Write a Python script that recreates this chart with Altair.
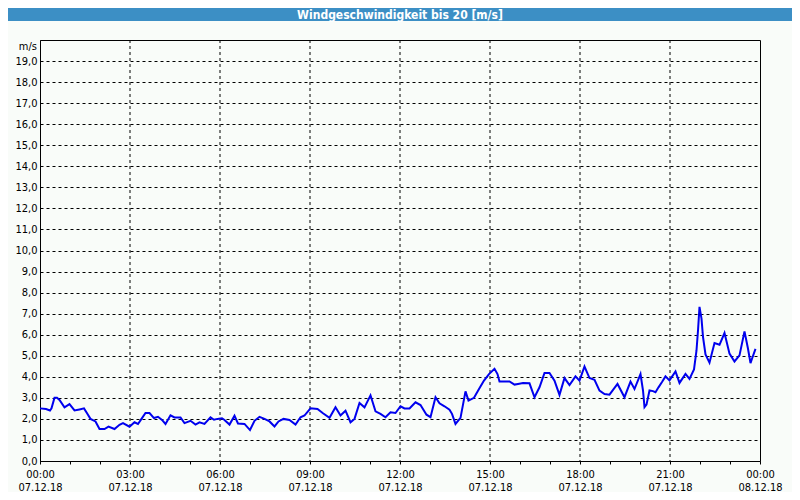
import json
import altair as alt
import pandas as pd

# ---- data ----
minutes = [0, 12, 20, 23, 29, 34, 39, 49, 59, 69, 79, 88, 95, 101, 111, 119, 129, 137, 149, 159,
           166, 179, 189, 196, 203, 211, 219, 228, 236, 244, 251, 261, 269, 281, 289, 301, 311, 319,
           329, 341, 348, 355, 364, 369, 379, 389, 396, 409, 420, 429, 439, 449, 459, 469, 477, 487,
           499, 511, 521, 529, 541, 555, 566, 579, 591, 601, 611, 621, 629, 639, 649, 661, 671, 681,
           691, 701, 711, 721, 729, 739, 751, 761, 773, 781, 791, 799, 809, 819, 824, 831, 841, 851,
           857, 868, 878, 888, 898, 909, 915, 919, 929, 939, 949, 956, 966, 979, 989, 999, 1009, 1019,
           1029, 1039, 1049, 1059, 1071, 1079, 1089, 1099, 1109, 1119, 1129, 1139, 1155, 1169, 1181,
           1189, 1201, 1206, 1209, 1213, 1219, 1226, 1231, 1237, 1244, 1251, 1259, 1271, 1279, 1291,
           1299, 1308, 1313, 1316, 1319, 1323, 1326, 1331, 1339, 1349, 1359, 1369, 1379, 1389, 1399,
           1409, 1416, 1421, 1424, 1431]
speed = [2.5, 2.47, 2.4, 2.5, 3.0, 3.0, 2.9, 2.55, 2.7, 2.4, 2.45, 2.5, 2.23, 2.0, 1.88, 1.52, 1.52,
         1.63, 1.52, 1.72, 1.8, 1.63, 1.84, 1.76, 2.0, 2.28, 2.28, 2.04, 2.1, 1.95, 1.76, 2.17, 2.07,
         2.07, 1.8, 1.91, 1.73, 1.84, 1.76, 2.07, 1.96, 2.0, 2.03, 1.95, 1.73, 2.15, 1.78, 1.76, 1.47,
         1.91, 2.1, 2.0, 1.88, 1.64, 1.88, 2.0, 1.95, 1.73, 2.08, 2.16, 2.5, 2.47, 2.27, 2.05, 2.55,
         2.16, 2.39, 1.84, 2.0, 2.76, 2.55, 3.12, 2.36, 2.24, 2.08, 2.31, 2.28, 2.6, 2.5, 2.5, 2.79,
         2.66, 2.2, 2.08, 3.03, 2.74, 2.6, 2.44, 2.24, 1.76, 2.05, 3.31, 2.87, 3.0, 3.42, 3.82, 4.13,
         4.38, 4.13, 3.78, 3.78, 3.78, 3.63, 3.66, 3.7, 3.69, 3.03, 3.5, 4.18, 4.18, 3.82, 3.14, 3.94,
         3.61, 4.02, 3.82, 4.49, 3.94, 3.86, 3.34, 3.18, 3.15, 3.66, 3.03, 3.77, 3.42, 4.13, 3.35,
         2.56, 2.68, 3.35, 3.32, 3.27, 3.5, 3.75, 4.02, 3.83, 4.25, 3.71, 4.14, 3.9, 4.35, 5.25, 6.2,
         7.32, 6.76, 5.9, 5.06, 4.67, 5.6, 5.52, 6.08, 5.1, 4.73, 5.02, 6.16, 5.33, 4.65, 4.86, 5.33]

grid_hours = [3, 6, 9, 12, 15, 18, 21]
hour_ticks = list(range(25))
time_labels = ["00:00", "03:00", "06:00", "09:00", "12:00", "15:00", "18:00", "21:00", "00:00"]
date_labels = ["07.12.18"] * 8 + ["08.12.18"]
y_ticks = list(range(20))
title_text = "Windgeschwindigkeit bis 20 [m/s]"
unit_text = "m/s"

# ---- tables ----
df = pd.DataFrame({"h": [m / 60 for m in minutes], "v": speed})
grid_df = pd.DataFrame({"h": grid_hours})
title_df = pd.DataFrame({"t": [title_text]})
unit_df = pd.DataFrame({"t": [unit_text]})

W, H = 720, 421
FONT = "DejaVu Sans Condensed, DejaVu Sans, sans-serif"
LINE_BLUE = "#0000ee"
BAND_BLUE = "#3c8fc5"

label_pairs = [[t, d] for t, d in zip(time_labels, date_labels)]
x_label_expr = f"datum.value % 3 == 0 ? {json.dumps(label_pairs)}[datum.value / 3] : ''"
y_label_expr = "replace(format(datum.value, '.1f'), '.', ',')"

x_scale = alt.Scale(domain=[0, 24], nice=False, zero=False)
y_scale = alt.Scale(domain=[0, 20], nice=False, zero=True)

x_axis = alt.Axis(values=hour_ticks, grid=False, tickSize=3, tickColor="black",
                  domainColor="black", labelExpr=x_label_expr, labelPadding=4,
                  labelLineHeight=13, labelOverlap=False, labelFlush=False, labelBound=False,
                  title=None, labelFont=FONT, labelFontSize=11, labelColor="black")
y_axis = alt.Axis(values=y_ticks, grid=True, gridColor="black", gridDash=[3, 3], gridOpacity=1,
                  gridWidth=1, ticks=False, tickSize=0, labelPadding=3, domainColor="black",
                  labelExpr=y_label_expr, title=None, labelOverlap=False, labelFont=FONT,
                  labelFontSize=11, labelColor="black")

band = alt.Chart(title_df).mark_rect(color=BAND_BLUE).encode(
    x=alt.value(-32), x2=alt.value(752), y=alt.value(-32), y2=alt.value(-19))

title = alt.Chart(title_df).mark_text(color="white", font=FONT, fontSize=12, fontWeight="bold",
                                      align="center", baseline="middle").encode(
    text="t:N", x=alt.value(360), y=alt.value(-25.5))

unit = alt.Chart(unit_df).mark_text(color="black", font=FONT, fontSize=11, align="right",
                                    baseline="middle").encode(
    text="t:N", x=alt.value(-3), y=alt.value(6.5))

vgrid = alt.Chart(grid_df).mark_rule(color="black", strokeWidth=1, strokeDash=[3, 3]).encode(
    x=alt.X("h:Q", scale=x_scale, axis=x_axis))

line = alt.Chart(df).mark_line(color=LINE_BLUE, strokeWidth=2).encode(
    x=alt.X("h:Q", scale=x_scale, axis=x_axis),
    y=alt.Y("v:Q", scale=y_scale, axis=y_axis))

chart = alt.layer(vgrid, line, band, title, unit).properties(
    width=W, height=H,
    autosize=alt.AutoSizeParams(type="none"),
    padding={"left": 32, "top": 32, "right": 32, "bottom": 31},
    background="#f9fcf9",
).configure_view(stroke="black", strokeWidth=1)

chart.save("out.html", embed_options={"renderer": "svg", "actions": False})
